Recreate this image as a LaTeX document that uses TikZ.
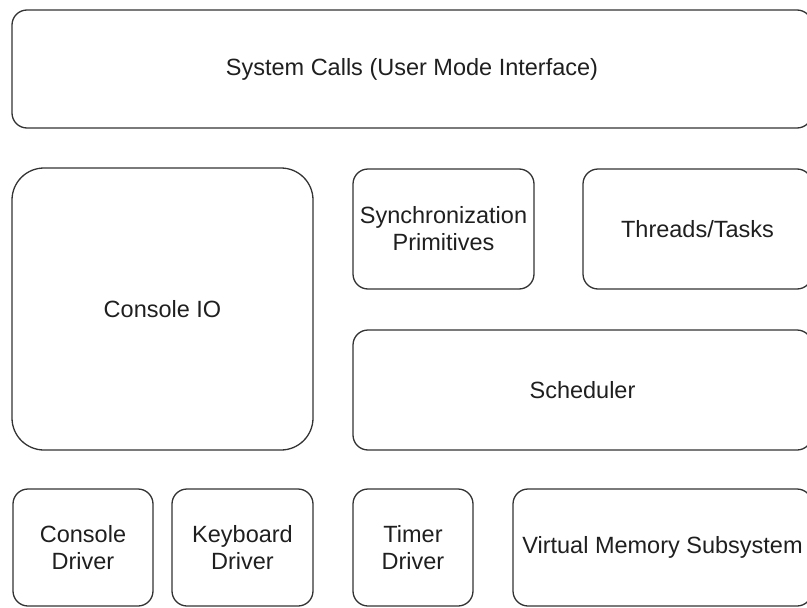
\documentclass[tikz,border=0pt]{standalone}
\usepackage{fontspec}
\setmainfont{Liberation Sans}

\begin{document}
\begin{tikzpicture}[x=1pt, y=-1pt,
	layer/.style={draw=black!80, line width=1.3pt, rounded corners=15pt, align=center, text=black!88, inner sep=0pt, font=\fontsize{23.5}{27}\selectfont}]
		%%%%% START %%%%%
		
		\useasboundingbox (0, 0) rectangle (807, 608);
		\clip (0, 0) rectangle (807, 608);
		
		\node[layer, minimum width=800pt, minimum height=118pt] (syscalls) at (412, 69) {System Calls (User Mode Interface)};
		
		\node[layer, rounded corners=32pt, minimum width=301pt, minimum height=282pt] (consoleio) at (162.5, 309) {Console IO};
		\node[layer, minimum width=181pt, minimum height=120pt] (sync) at (443.5, 229) {Synchronization\\Primitives};
		\node[layer, minimum width=229pt, minimum height=120pt] (threads) at (697.5, 229) {Threads/Tasks};
		\node[layer, minimum width=459pt, minimum height=120pt] (sched) at (582.5, 390) {Scheduler};
		
		\node[layer, minimum width=140pt, minimum height=117pt] (condrv) at (83, 547.5) {Console\\Driver};
		\node[layer, minimum width=141pt, minimum height=117pt] (kbdrv) at (242.5, 547.5) {Keyboard\\Driver};
		\node[layer, minimum width=120pt, minimum height=117pt] (timerdrv) at (413, 547.5) {Timer\\Driver};
		\node[layer, minimum width=299pt, minimum height=117pt] (vmem) at (662.5, 547.5) {Virtual Memory Subsystem};
		
		%%%%% END %%%%%
	\end{tikzpicture}
\end{document}
